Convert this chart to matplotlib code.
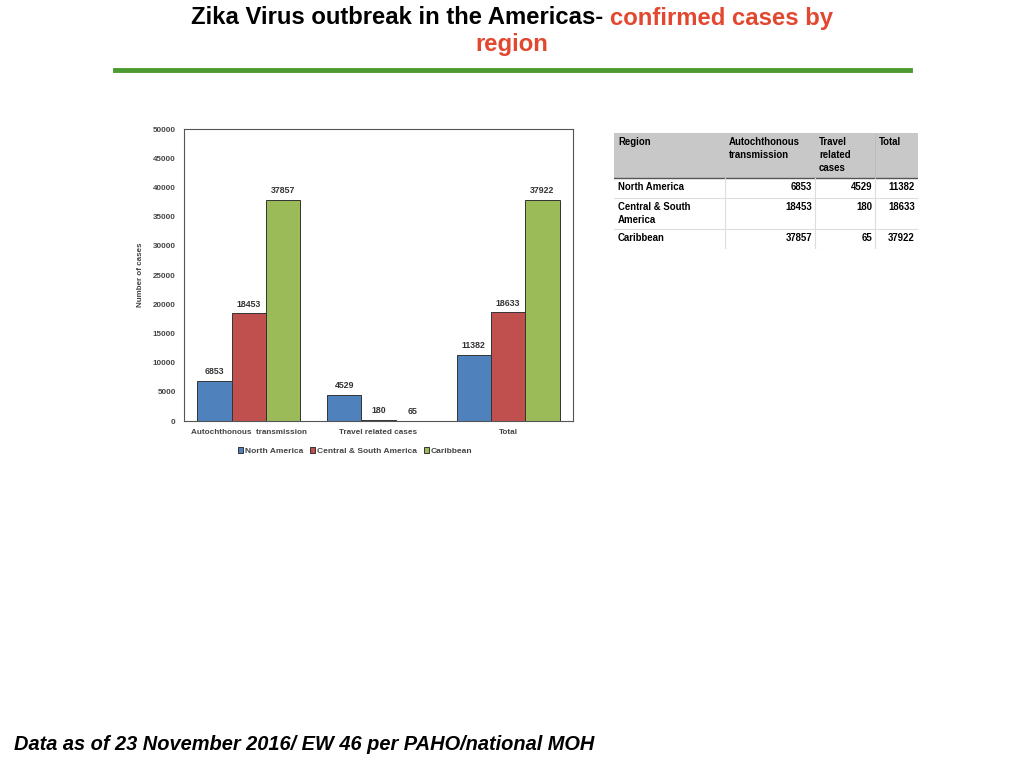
import matplotlib
matplotlib.use("Agg")
import matplotlib.pyplot as plt
import numpy as np

plt.rcParams['font.family'] = ['Liberation Sans', 'DejaVu Sans']

# data
categories = ['Autochthonous  transmission', 'Travel related cases', 'Total']
regions = ['North America', 'Central & South America', 'Caribbean']
north_america = [6853, 4529, 11382]
central_south = [18453, 180, 18633]
caribbean = [37857, 65, 37922]
series = [north_america, central_south, caribbean]
colors = ['#4F81BD', '#C0504D', '#9BBB59']

table_header = ['Region', 'Autochthonous\ntransmission', 'Travel\nrelated\ncases', 'Total']
table_regions = ['North America', 'Central & South\nAmerica', 'Caribbean']

W, H = 1024, 768
fig = plt.figure(figsize=(W / 100, H / 100), dpi=100)

# title, two colours on one line
t1 = fig.text(0, 1 - 18 / H, 'Zika Virus outbreak in the Americas- ', ha='left', va='center',
              fontsize=17.2, fontweight='bold', color='black')
t2 = fig.text(0, 1 - 18 / H, 'confirmed cases by', ha='left', va='center',
              fontsize=17.2, fontweight='bold', color='#E2472F')
r = fig.canvas.get_renderer()
w1 = t1.get_window_extent(r).width
w2 = t2.get_window_extent(r).width
start = 512 - (w1 + w2) / 2
t1.set_x(start / W)
t2.set_x((start + w1) / W)
fig.text(512 / W, 1 - 45 / H, 'region', ha='center', va='center',
         fontsize=17.2, fontweight='bold', color='#E2472F')
fig.add_artist(plt.Line2D([115 / W, 910 / W], [1 - 70 / H, 1 - 70 / H], color='#4A9A2F', lw=3.5))

# bar chart
ax = fig.add_axes([184 / W, 1 - 421 / H, 389 / W, 292 / H])
x = np.arange(len(categories))
bw = 0.265
for i, (vals, name, c) in enumerate(zip(series, regions, colors)):
    bars = ax.bar(x + (i - 1) * bw, vals, bw, color=c, edgecolor='#333333', linewidth=0.7, label=name)
    for b, v in zip(bars, vals):
        ax.text(b.get_x() + b.get_width() / 2, v + 800, str(v), ha='center', va='bottom',
                fontsize=6.3, fontweight='bold', color='#333333')
ax.set_xlim(-0.5, 2.5)
ax.set_ylim(0, 50000)
ax.set_yticks(range(0, 50001, 5000))
ax.tick_params(axis='y', labelsize=5.8, length=0, pad=6, labelcolor='#444444')
ax.tick_params(axis='x', labelsize=5.9, length=0, pad=6, labelcolor='#444444')
ax.set_xticks(x)
ax.set_xticklabels(categories, fontweight='bold')
for lbl in ax.get_yticklabels():
    lbl.set_fontweight('bold')
ax.set_ylabel('Number of cases', fontsize=5.8, fontweight='bold', color='#444444', labelpad=6)
for s in ax.spines.values():
    s.set_color('#555555')
    s.set_linewidth(0.8)
ax.legend(loc='upper center', bbox_to_anchor=(0.44, -0.065), ncol=3, frameon=False,
          handlelength=0.6, handleheight=0.6, handletextpad=0.2, columnspacing=0.8,
          prop={'weight': 'bold', 'size': 6})
for txt in ax.get_legend().get_texts():
    txt.set_color('#444444')

# table
tx0, ty0, tw, th = 614, 133, 304, 116
axt = fig.add_axes([tx0 / W, 1 - (ty0 + th) / H, tw / W, th / H])
axt.set_xlim(0, tw)
axt.set_ylim(th, 0)
axt.axis('off')
col_x = [0, 111, 201, 261, 304]
row_y = [0, 45, 65, 96, 116]
axt.add_patch(plt.Rectangle((0, 0), tw, row_y[1], color='#C8C8C8', lw=0))
axt.plot([0, tw], [row_y[1], row_y[1]], color='#555555', lw=1)
for y in row_y[2:]:
    axt.plot([0, tw], [y, y], color='#DDDDDD', lw=0.8)
for xc in col_x[1:-1]:
    axt.plot([xc, xc], [row_y[1], th], color='#DDDDDD', lw=0.8)
axt.plot([col_x[3], col_x[3]], [0, row_y[1]], color='#BBBBBB', lw=0.6)
axt.plot([tw, tw], [0, th], color='#DDDDDD', lw=0.8)
fs = 6.9
for j, htxt in enumerate(table_header):
    axt.text(col_x[j] + 4, 4, htxt, ha='left', va='top', fontsize=fs, fontweight='bold', linespacing=1.4)
for rr, name in enumerate(table_regions):
    axt.text(4, row_y[rr + 1] + 4, name, ha='left', va='top', fontsize=fs, fontweight='bold', linespacing=1.4)
table_auto = [north_america[0], central_south[0], caribbean[0]]
table_travel = [north_america[1], central_south[1], caribbean[1]]
table_total = [north_america[2], central_south[2], caribbean[2]]
for rr in range(3):
    yt = row_y[rr + 1] + 4
    for j, v in enumerate([table_auto[rr], table_travel[rr], table_total[rr]]):
        axt.text(col_x[j + 2] - 3, yt, str(v), ha='right', va='top', fontsize=fs, fontweight='bold')

# footnote
fig.text(14 / W, 1 - 745 / H, 'Data as of 23 November 2016/ EW 46 per PAHO/national MOH', ha='left', va='center',
         fontsize=14.4, fontweight='bold', style='italic')

fig.savefig('out.png', dpi=100)
